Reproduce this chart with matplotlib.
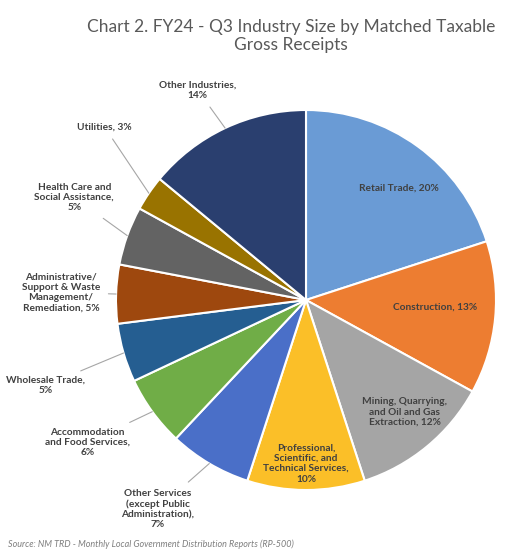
import matplotlib
matplotlib.use("Agg")
import matplotlib.pyplot as plt
import numpy as np

labels = ["Retail Trade, 20%", "Construction, 13%", "Mining, Quarrying,\nand Oil and Gas\nExtraction, 12%",
          "Professional,\nScientific, and\nTechnical Services,\n10%", "Other Services\n(except Public\nAdministration),\n7%",
          "Accommodation\nand Food Services,\n6%", "Wholesale Trade,\n5%", "Administrative/\nSupport & Waste\nManagement/\nRemediation, 5%",
          "Health Care and\nSocial Assistance,\n5%", "Utilities, 3%", "Other Industries,\n14%"]
values = [20, 13, 12, 10, 7, 6, 5, 5, 5, 3, 14]
colors = ["#6a9bd5", "#ed7d31", "#a5a5a5", "#fbbf28", "#4a6fc8", "#70ad47", "#255e91", "#9e480e", "#636363", "#997300", "#2a3f6f"]
label_pos = [(0.49, 0.59), (0.68, -0.04), (0.52, -0.59), (0.0, -0.86), (-0.78, -1.1), (-1.15, -0.75),
             (-1.37, -0.45), (-1.29, 0.04), (-1.22, 0.54), (-1.06, 0.91), (-0.57, 1.105)]
inside = [True, True, True, True] + [False] * 7

plt.rcParams['font.family'] = ['Lato', 'DejaVu Sans']
fig = plt.figure(figsize=(5.2, 5.56), dpi=100)
ax = fig.add_axes([(306 - 190) / 520, (256 - 190) / 556, 380 / 520, 380 / 556])
wedges, _ = ax.pie(values, colors=colors, startangle=90, counterclock=False,
                   wedgeprops=dict(edgecolor="white", linewidth=1.5), radius=1)
ax.set_xlim(-1, 1); ax.set_ylim(-1, 1); ax.set_aspect('equal')
for w, lab, pos, ins in zip(wedges, labels, label_pos, inside):
    if ins:
        ax.text(pos[0], pos[1], lab, ha='center', va='center', fontsize=7.3, color='#404040',
                fontweight='bold', multialignment='center')
    else:
        ang = np.deg2rad((w.theta1 + w.theta2) / 2)
        ax.annotate(lab, xy=(np.cos(ang), np.sin(ang)), xytext=pos, ha='center', va='center',
                    fontsize=7.3, color='#404040', fontweight='bold', multialignment='center',
                    annotation_clip=False,
                    arrowprops=dict(arrowstyle='-', color='#a6a6a6', lw=0.8, shrinkA=4, shrinkB=0))
fig.text(0.56, 0.935, "Chart 2. FY24 - Q3 Industry Size by Matched Taxable\nGross Receipts",
         ha='center', va='center', fontsize=12.5, color='#595959')
fig.text(0.015, 0.012, "Source: NM TRD - Monthly Local Government Distribution Reports (RP-500)",
         ha='left', va='bottom', fontsize=6.5, color='#7f7f7f', style='italic')
fig.savefig("out.png", dpi=100)
